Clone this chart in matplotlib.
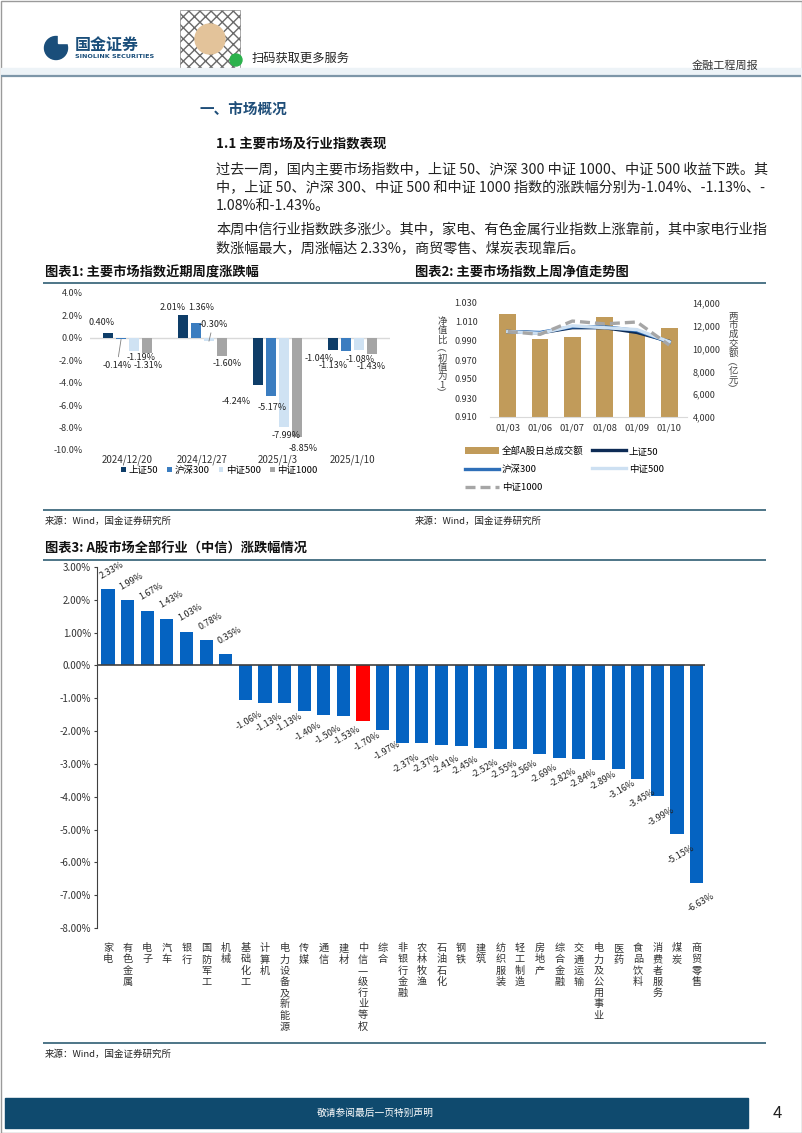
import matplotlib
matplotlib.use("Agg")
import matplotlib.pyplot as plt
from matplotlib.patches import Rectangle, Circle
from matplotlib.ticker import FuncFormatter, MultipleLocator
import numpy as np

plt.rcParams['font.family'] = ['Noto Sans CJK SC', 'DejaVu Sans']
plt.rcParams['axes.unicode_minus'] = False

W, H = 802, 1133

# ---- chart 1: weekly returns of main indices (%)
weeks = ['2024/12/20', '2024/12/27', '2025/1/3', '2025/1/10']
index_names = ['上证50', '沪深300', '中证500', '中证1000']
sz50_week = [0.40, 2.01, -4.24, -1.04]
hs300_week = [-0.14, 1.36, -5.17, -1.13]
zz500_week = [-1.19, -0.30, -7.99, -1.08]
zz1000_week = [-1.31, -1.60, -8.85, -1.43]

# ---- chart 2: daily NAV (start = 1) and total A-share turnover (亿元)
days = ['01/03', '01/06', '01/07', '01/08', '01/09', '01/10']
turnover = [13000, 10850, 11050, 12750, 11400, 11800]
sz50_nav = [1.000, 0.9985, 1.004, 1.004, 0.999, 0.9896]
hs300_nav = [1.000, 0.999, 1.005, 1.005, 1.001, 0.9887]
zz500_nav = [1.000, 0.998, 1.006, 1.004, 1.002, 0.9892]
zz1000_nav = [1.000, 0.997, 1.011, 1.008, 1.010, 0.9857]

# ---- chart 3: CITIC level-1 industries weekly return (%)
industries = ['家电', '有色金属', '电子', '汽车', '银行', '国防军工', '机械', '基础化工',
              '计算机', '电力设备及新能源', '传媒', '通信', '建材', '中信一级行业等权',
              '综合', '非银行金融', '农林牧渔', '石油石化', '钢铁', '建筑', '纺织服装',
              '轻工制造', '房地产', '综合金融', '交通运输', '电力及公用事业', '医药',
              '食品饮料', '消费者服务', '煤炭', '商贸零售']
industry_ret = [2.33, 1.99, 1.67, 1.43, 1.03, 0.78, 0.35, -1.06,
                -1.13, -1.13, -1.40, -1.50, -1.53, -1.70,
                -1.97, -2.37, -2.37, -2.41, -2.45, -2.52, -2.55,
                -2.56, -2.69, -2.82, -2.84, -2.89, -3.16,
                -3.45, -3.99, -5.15, -6.63]
benchmark = '中信一级行业等权'

fig = plt.figure(figsize=(W / 100, H / 100), dpi=100)

# page decoration layer, pixel coordinates
deco = fig.add_axes([0, 0, 1, 1], zorder=-5)
deco.set_xlim(0, W)
deco.set_ylim(H, 0)
deco.axis('off')


def px_axes(l, t, r, b):
    ax = fig.add_axes([l / W, 1 - b / H, (r - l) / W, (b - t) / H])
    ax.patch.set_visible(False)
    return ax


def ptext(x, y, s, **kw):
    kw.setdefault('va', 'center')
    kw.setdefault('color', '#222222')
    deco.text(x, y, s, **kw)


def hline(y, x0=43, x1=766, color='#2f5d73', lw=1.2):
    deco.plot([x0, x1], [y, y], color=color, lw=lw, solid_capstyle='butt')


navy = '#1a4e7a'
# border
deco.add_patch(Rectangle((0.5, 0.5), W - 1, H - 1, fill=False, ec='#9a9a9a', lw=1))
# header
deco.add_patch(Circle((56, 48), 11.5, color=navy))
deco.add_patch(Rectangle((58, 35), 9, 8, color='white'))
ptext(75, 45, '国金证券', fontsize=11.5, fontweight='bold', color=navy)
ptext(75, 57, 'SINOLINK SECURITIES', fontsize=4.6, fontweight='bold', color=navy,
      family='DejaVu Sans')
deco.add_patch(Rectangle((180, 10), 60, 60, fc='white', ec='#6a6a6a', hatch='xxx', lw=0.4))
deco.add_patch(Circle((210, 39), 15, color='#e3c39a'))
deco.add_patch(Circle((236, 60), 6, color='#2bb24c'))
ptext(252, 58, '扫码获取更多服务', fontsize=8.8)
ptext(758, 66, '金融工程周报', fontsize=8, ha='right', color='#333333')
deco.add_patch(Rectangle((1, 68), W - 2, 7, color='#edf3f7'))
hline(76, 1, W - 1, color='#7d96a8', lw=1.6)

# section text
ptext(200, 110, '一、市场概况', fontsize=10.5, fontweight='bold', color='#1f4e79')
ptext(216, 145, '1.1 主要市场及行业指数表现', fontsize=9.6, fontweight='bold', color='#111111')
para = ['过去一周，国内主要市场指数中，上证 50、沪深 300 中证 1000、中证 500 收益下跌。其',
        '中，上证 50、沪深 300、中证 500 和中证 1000 指数的涨跌幅分别为-1.04%、-1.13%、-',
        '1.08%和-1.43%。']
for k, line in enumerate(para):
    ptext(216, 170 + 18 * k, line, fontsize=10.2)
para2 = ['本周中信行业指数跌多涨少。其中，家电、有色金属行业指数上涨靠前，其中家电行业指',
         '数涨幅最大，周涨幅达 2.33%，商贸零售、煤炭表现靠后。']
for k, line in enumerate(para2):
    ptext(216, 230 + 18 * k, line, fontsize=10.2)

ptext(45, 272, '图表1: 主要市场指数近期周度涨跌幅', fontsize=9.5, fontweight='bold', color='#111111')
ptext(415, 272, '图表2: 主要市场指数上周净值走势图', fontsize=9.5, fontweight='bold', color='#111111')
hline(283)
hline(510)
ptext(45, 521, '来源：Wind，国金证券研究所', fontsize=6.8)
ptext(415, 521, '来源：Wind，国金证券研究所', fontsize=6.8)
ptext(45, 549, '图表3: A股市场全部行业（中信）涨跌幅情况', fontsize=9.5, fontweight='bold', color='#111111')
hline(560)
hline(1043)
ptext(45, 1054, '来源：Wind，国金证券研究所', fontsize=6.8)

# footer
deco.add_patch(Rectangle((5, 1098), 743, 30, color='#0f4a6e'))
ptext(375, 1113, '敬请参阅最后一页特别声明', fontsize=7, color='white', ha='center')
ptext(777, 1113, '4', fontsize=12, color='#222222', ha='center')

# ================= chart 1
ax1 = px_axes(90, 293, 390, 450)
c1 = ['#0e3d68', '#3b7dc0', '#cfe2f3', '#a5a5a5']
series1 = [sz50_week, hs300_week, zz500_week, zz1000_week]
xg = np.arange(len(weeks))
slot, bw = 0.172, 0.14
# label offsets in pixels (dx right, dy down) to mimic the original placement
offs1 = [[(-7, -11), (-10, -8), (-22, 16), (-14, 9)],
         [(-4, 26), (5, -15), (1, 12), (-13, 15)],
         [(7, 6), (4, -17), (2, 8), (1, 10)],
         [(1, 13), (5, 8), (6, 11), (-1, 13)]]
handles1 = []
for k, vals in enumerate(series1):
    xs = xg + (k - 1.5) * slot
    b = ax1.bar(xs, vals, bw, color=c1[k], label=index_names[k], zorder=2)
    handles1.append(b)
    for i, v in enumerate(vals):
        dx, dy = offs1[k][i]
        arrow = None
        if abs(v) < 0.35:
            arrow = dict(arrowstyle='-', color='#808080', lw=0.6, shrinkA=1, shrinkB=0)
        ax1.annotate(f'{v:.2f}%', (xs[i], v), xytext=(dx, -dy), textcoords='offset pixels',
                     ha='center', va='center', fontsize=6.5, color='#222222',
                     arrowprops=arrow, zorder=4)
ax1.set_xlim(-0.5, 3.5)
ax1.set_ylim(-10, 4)
ax1.axhline(0, color='#d9d9d9', lw=1, zorder=1)
ax1.yaxis.set_major_locator(MultipleLocator(2))
ax1.yaxis.set_major_formatter(FuncFormatter(lambda v, p: f'{v:.1f}%'))
ax1.set_xticks(xg)
ax1.set_xticklabels(weeks)
for s in ax1.spines.values():
    s.set_visible(False)
ax1.tick_params(axis='y', length=0, labelsize=6.5, pad=5, labelcolor='#333333')
ax1.tick_params(axis='x', length=0, labelsize=7, pad=3, labelcolor='#333333')
fig.legend(handles=handles1, labels=index_names, ncol=4, loc='upper left',
           bbox_to_anchor=(121 / W, 1 - 465 / H), frameon=False, fontsize=6.8,
           handlelength=0.5, handleheight=0.5, handletextpad=0.25, columnspacing=1.0,
           borderpad=0, borderaxespad=0)

# ================= chart 2
ax2 = px_axes(490, 303, 687, 417)
ax2r = ax2.twinx()
ax2.set_zorder(ax2r.get_zorder() + 1)
ax2.patch.set_visible(False)
xd = np.arange(len(days))
gold = '#c19b5a'
bar2 = ax2r.bar(xd, turnover, 0.52, color=gold, label='全部A股日总成交额')
l_sz50, = ax2.plot(xd, sz50_nav, color='#0d2b55', lw=2.4, label='上证50')
l_hs300, = ax2.plot(xd, hs300_nav, color='#2f6fb8', lw=2.4, label='沪深300')
l_zz500, = ax2.plot(xd, zz500_nav, color='#cde0f2', lw=2.4, label='中证500')
l_zz1000, = ax2.plot(xd, zz1000_nav, color='#a6a6a6', lw=2.4, ls=(0, (3, 1.5)), label='中证1000')
ax2.set_xlim(-0.55, 5.55)
ax2.set_ylim(0.91, 1.03)
ax2r.set_ylim(4000, 14000)
ax2.set_yticks(np.arange(0.91, 1.0301, 0.02))
ax2.yaxis.set_major_formatter(FuncFormatter(lambda v, p: f'{v:.3f}'))
ax2r.yaxis.set_major_locator(MultipleLocator(2000))
ax2r.yaxis.set_major_formatter(FuncFormatter(lambda v, p: f'{v:,.0f}'))
ax2.set_xticks(xd)
ax2.set_xticklabels(days)
for a in (ax2, ax2r):
    for s in a.spines.values():
        s.set_visible(False)
ax2.spines['bottom'].set_visible(True)
ax2.spines['bottom'].set_color('#d9d9d9')
ax2.tick_params(axis='y', length=0, labelsize=6.5, pad=9, labelcolor='#333333')
ax2r.tick_params(axis='y', length=0, labelsize=6.5, pad=4, labelcolor='#333333')
ax2.tick_params(axis='x', length=0, labelsize=6.8, pad=5, labelcolor='#333333')
ptext(442, 358, '\n'.join('净值比︵初值为1︶'), fontsize=6.8, ha='center',
      linespacing=1.0, color='#444444')
ptext(733, 353, '\n'.join('两市成交额︵亿元︶'), fontsize=6.8, ha='center',
      linespacing=1.0, color='#444444')
handles2 = [bar2, l_hs300, l_zz1000, l_sz50, l_zz500]
fig.legend(handles=handles2, labels=[h.get_label() for h in handles2], ncol=2,
           loc='upper left', bbox_to_anchor=(465 / W, 1 - 446 / H), frameon=False,
           fontsize=6.8, handlelength=3.6, handletextpad=0.3, columnspacing=0.9,
           labelspacing=0.95, borderpad=0, borderaxespad=0)

# ================= chart 3
ax3 = px_axes(97, 567, 705, 928)
xi = np.arange(len(industries))
c3 = ['#ff0000' if n == benchmark else '#0563c1' for n in industries]
ax3.bar(xi, industry_ret, 0.67, color=c3, zorder=2)
for i, v in enumerate(industry_ret):
    dy = 19 if v > 0 else -20
    ax3.annotate(f'{v:.2f}%', (xi[i], v), xytext=(4, dy), textcoords='offset pixels',
                 ha='center', va='center', rotation=30, fontsize=6.5, color='#222222',
                 zorder=4, annotation_clip=False)
ax3.axhline(0, color='#404040', lw=1.2, zorder=3)
ax3.set_xlim(-0.56, 30.43)
ax3.set_ylim(-8, 3)
ax3.yaxis.set_major_locator(MultipleLocator(1))
ax3.yaxis.set_major_formatter(FuncFormatter(lambda v, p: f'{v:.2f}%'))
ax3.set_xticks(xi)
ax3.set_xticklabels(['\n'.join(n) for n in industries], va='top', linespacing=1.15)
for s in ('top', 'right', 'bottom'):
    ax3.spines[s].set_visible(False)
ax3.spines['left'].set_color('#404040')
ax3.tick_params(axis='y', length=2.5, width=0.8, color='#404040', labelsize=7,
                pad=2, labelcolor='#333333')
ax3.tick_params(axis='x', length=0, labelsize=7.3, pad=11, labelcolor='#333333')

fig.savefig('out.png', dpi=100)
